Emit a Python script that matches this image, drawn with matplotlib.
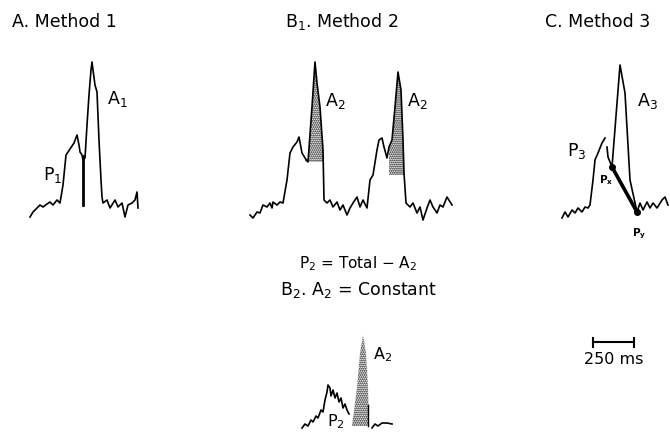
import numpy as np
import matplotlib
matplotlib.use("Agg")
import matplotlib.pyplot as plt

plt.rcParams['font.family'] = ['DejaVu Sans']
plt.rcParams['mathtext.default'] = 'regular'
plt.rcParams['hatch.linewidth'] = 0.9

# traces (x in page px, y in page px, downward)
a_x = [30, 33, 37, 40, 43, 47, 50, 53, 57, 60, 63, 66, 70, 74, 77, 79, 80, 82, 83,
       85, 87, 89, 91, 92, 93, 95, 97, 99, 101, 102, 103, 107, 110, 115, 118, 122,
       125, 128, 132, 135, 137, 138]
a_y = [217, 212, 208, 205, 207, 204, 202, 205, 200, 203, 185, 155, 149, 143, 135,
       145, 152, 155, 160, 158, 125, 95, 70, 62, 70, 85, 92, 140, 180, 197, 203,
       200, 208, 200, 207, 203, 217, 205, 203, 200, 192, 208]

b1_x = [250, 253, 257, 260, 263, 267, 270, 272, 273, 277, 280, 283, 287, 290, 293,
        297, 299, 302, 305, 308, 312, 315, 317, 320, 323, 324, 327, 330, 333, 337,
        340, 343, 347, 350, 353, 357, 360, 363, 367, 370, 373, 377, 379, 382, 384,
        387, 389, 392, 395, 398, 401, 403, 404, 406, 410, 413, 417, 420, 423, 427,
        430, 433, 437, 440, 443, 447, 452]
b1_y = [215, 218, 212, 213, 205, 207, 203, 208, 202, 205, 202, 203, 180, 153, 147,
        142, 137, 153, 158, 162, 107, 62, 83, 107, 150, 200, 203, 200, 207, 202,
        210, 205, 215, 208, 203, 197, 207, 200, 208, 180, 175, 150, 140, 138, 147,
        158, 147, 140, 107, 72, 90, 140, 173, 203, 207, 203, 213, 207, 220, 208,
        200, 207, 213, 205, 207, 197, 205]

b2_left_x = [302, 305, 308, 311, 313, 316, 318, 321, 323, 325, 327, 328, 330, 331,
             333, 335, 337, 339, 341, 343, 345, 347, 349]
b2_left_y = [428, 424, 426, 420, 422, 416, 418, 410, 412, 400, 392, 385, 388, 396,
             390, 398, 393, 402, 398, 408, 404, 410, 414]
b2_peak_x = [352, 355, 357, 360, 363, 366, 368, 369]
b2_peak_y = [426, 403, 387, 353, 335, 353, 387, 426]
b2_right_x = [372, 375, 378, 382, 387, 392]
b2_right_y = [428, 424, 426, 423, 423, 424]

c1_x = [562, 565, 568, 572, 575, 578, 582, 585, 588, 590, 593, 595, 598, 602, 605]
c1_y = [218, 212, 217, 210, 213, 208, 212, 207, 208, 205, 180, 160, 153, 143, 138]
c2_x = [607, 608, 612, 620, 625, 630, 637, 640, 643, 647, 650, 653, 657, 662, 665, 668]
c2_y = [147, 157, 167, 65, 93, 180, 212, 203, 210, 202, 208, 203, 208, 200, 197, 205]
pxy_x = [612, 637]
pxy_y = [167, 212]

# shaded A2 windows: (x start, x end, base level)
a2_windows = [(305, 325, 162), (389, 406, 175)]

fig = plt.figure(figsize=(6.7, 4.33), dpi=100)
ax = fig.add_axes([0, 0, 1, 1])
ax.set_xlim(0, 670)
ax.set_ylim(433, 0)
ax.axis('off')

lw = 1.2
ax.plot(a_x, a_y, color='black', lw=lw)
ax.plot([83, 83], [156, 205], color='black', lw=2.0)

ax.plot(b1_x, b1_y, color='black', lw=lw)
for x0, x1, base in a2_windows:
    xs = np.linspace(x0, x1, 200)
    ys = np.interp(xs, b1_x, b1_y)
    ax.fill_between(xs, ys, base, where=ys < base, interpolate=True,
                    facecolor='none', edgecolor='black', hatch='........', linewidth=0)

ax.plot(b2_left_x, b2_left_y, color='black', lw=lw)
ax.plot(b2_right_x, b2_right_y, color='black', lw=lw)
ax.fill(b2_peak_x, b2_peak_y, facecolor='none', edgecolor='black',
        hatch='........', linewidth=0)
ax.plot([368, 368], [405, 426], color='black', lw=1.0)

ax.plot(c1_x, c1_y, color='black', lw=lw)
ax.plot(c2_x, c2_y, color='black', lw=lw)
ax.plot(pxy_x, pxy_y, color='black', lw=2.6, marker='o', markersize=4)

fs = 12.5
ax.text(12, 22, 'A. Method 1', fontsize=fs, va='center', ha='left')
ax.text(285, 22, 'B$_1$. Method 2', fontsize=fs, va='center', ha='left')
ax.text(545, 22, 'C. Method 3', fontsize=fs, va='center', ha='left')

ax.text(107, 99, 'A$_1$', fontsize=fs, va='center', ha='left')
ax.text(43, 175, 'P$_1$', fontsize=fs, va='center', ha='left')
ax.text(325, 101, 'A$_2$', fontsize=fs, va='center', ha='left')
ax.text(407, 101, 'A$_2$', fontsize=fs, va='center', ha='left')

ax.text(358, 264, 'P$_2$ = Total $-$ A$_2$', fontsize=11, va='center', ha='center')
ax.text(358, 290, 'B$_2$. A$_2$ = Constant', fontsize=fs, va='center', ha='center')
ax.text(373, 355, 'A$_2$', fontsize=11.5, va='center', ha='left')
ax.text(327, 422, 'P$_2$', fontsize=11.5, va='center', ha='left')

ax.text(567, 151, 'P$_3$', fontsize=fs, va='center', ha='left')
ax.text(637, 101, 'A$_3$', fontsize=fs, va='center', ha='left')
ax.text(599, 180, 'P$_x$', fontsize=7.5, va='center', ha='left', fontweight='bold')
ax.text(632, 234, 'P$_y$', fontsize=7.5, va='center', ha='left', fontweight='bold')

# 250 ms scale bar
ax.plot([593, 634], [342, 342], color='black', lw=1.5)
ax.plot([593, 593], [338, 347], color='black', lw=1.5)
ax.plot([634, 634], [338, 347], color='black', lw=1.5)
ax.text(614, 360, '250 ms', fontsize=11.5, va='center', ha='center')

fig.savefig('out.png', dpi=100)
